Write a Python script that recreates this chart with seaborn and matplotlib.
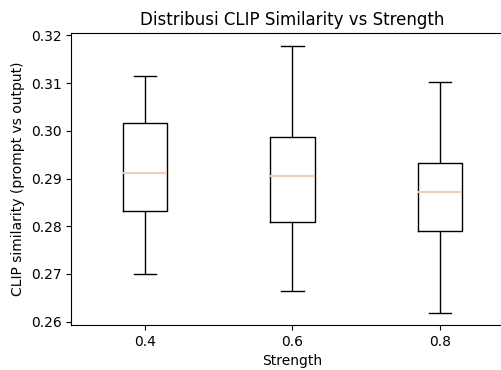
import pandas as pd
import seaborn as sns
from matplotlib import pyplot as plt

# five-number summaries, one per strength
strength = ['0.4', '0.6', '0.8']
lower = [0.2700, 0.2664, 0.2618]
q1 = [0.2832, 0.2809, 0.2790]
median = [0.2912, 0.2906, 0.2871]
q3 = [0.3017, 0.2987, 0.2932]
upper = [0.3115, 0.3178, 0.3102]

rows = []
for i, s in enumerate(strength):
    for v in [lower[i], q1[i], median[i], q3[i], upper[i]]:
        rows.append({'Strength': s, 'clip': v})
df = pd.DataFrame(rows)

fig = plt.figure(figsize=(5.02, 3.7), dpi=100)
ax = fig.add_axes([0.1419, 0.1216, 0.8815, 0.7890])

sns.boxplot(data=df, x='Strength', y='clip', ax=ax, fill=False, color='black',
            width=0.3, linewidth=1, whis=1.5,
            medianprops=dict(color='#f2cfb4', linewidth=1.5),
            capwidths=0.15)

ax.set_xlim(-0.5, 2.5)
ax.set_ylim(0.2593, 0.3205)
for side in ['top', 'right', 'left', 'bottom']:
    ax.spines[side].set_visible(True)
    ax.spines[side].set_color('black')
    ax.spines[side].set_linewidth(0.8)
ax.set_title('Distribusi CLIP Similarity vs Strength', fontsize=12)
ax.set_xlabel('Strength')
ax.set_ylabel('CLIP similarity (prompt vs output)')

plt.savefig('out.png', dpi=100)
